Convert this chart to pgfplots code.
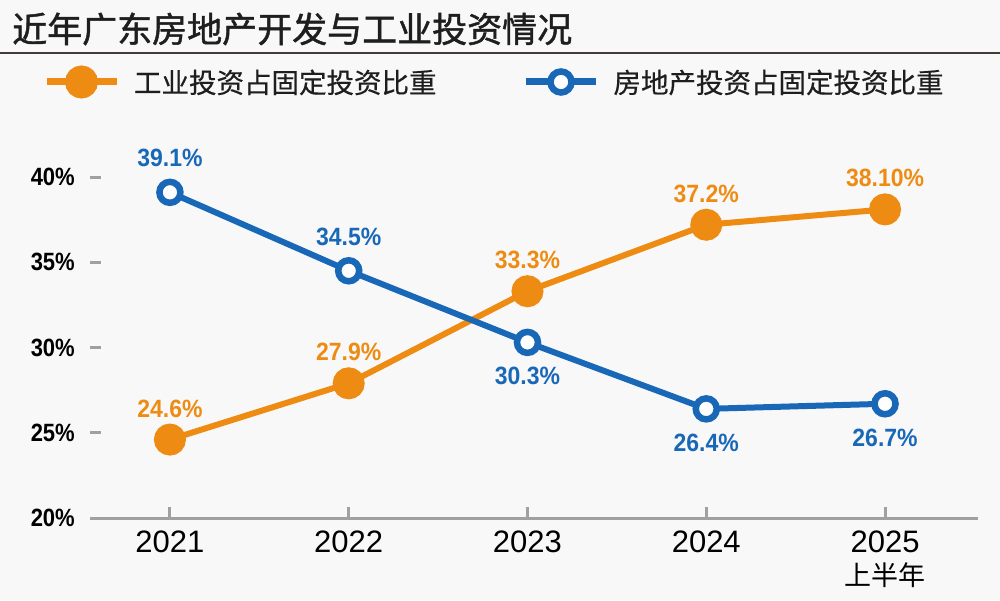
\documentclass[border=0pt]{standalone}
\usepackage{pgfplots}
\usepackage{pgfplotstable}
\pgfplotsset{compat=1.18}
\usepackage{fontspec}
\setmainfont{Liberation Sans}
\newfontfamily\numfont[FakeStretch=0.88]{Liberation Sans}
\newfontfamily\lblfont[FakeStretch=0.92]{Liberation Sans}
\newfontfamily\cjk{Noto Sans CJK SC}
\newfontfamily\cjkleg[FakeBold=0.5]{Noto Sans CJK SC}
\newfontfamily\cjktitle[FakeBold=1.3]{Noto Sans CJK SC}
\definecolor{ind}{RGB}{238,139,18}
\definecolor{re}{RGB}{24,104,183}
\definecolor{bg}{RGB}{248,248,248}
\definecolor{axg}{RGB}{160,160,160}
\definecolor{rulec}{RGB}{70,58,58}
\definecolor{txt}{RGB}{30,30,30}

% pos: 1 = label above the point, -1 = below
\pgfplotstableread{
x v lab pos
0 24.6 24.6 1
1 27.9 27.9 1
2 33.3 33.3 1
3 37.2 37.2 1
4 38.1 38.10 1
}\industry
\pgfplotstableread{
x v lab pos
0 39.1 39.1 1
1 34.5 34.5 1
2 30.3 30.3 -1
3 26.4 26.4 -1
4 26.7 26.7 -1
}\estate

\begin{document}
\begin{tikzpicture}
\fill[bg] (0pt,0pt) rectangle (1000pt,600pt);
\useasboundingbox (0pt,0pt) rectangle (1000pt,600pt);
\node[anchor=west, inner sep=0pt, text=txt, font=\cjktitle\fontsize{35}{40}\selectfont] at (12pt,571pt) {近年广东房地产开发与工业投资情况};
\draw[rulec, line width=2pt] (0pt,547pt) -- (1000pt,547pt);

\begin{axis}[
  at={(90pt,82pt)}, anchor=south west,
  scale only axis, width=888pt, height=341pt,
  xmin=-0.447, xmax=4.52, ymin=20, ymax=40,
  clip=false,
  axis x line*=bottom, axis y line*=left,
  x axis line style={axg, line width=3pt, -},
  y axis line style={draw=none},
  tick align=inside, major tick length=11pt,
  tick style={axg, line width=3pt},
  xtick={0,1,2,3,4},
  xticklabels={2021,2022,2023,2024,{2025\\{\cjk\fontsize{27}{30}\selectfont 上半年}}},
  xticklabel style={font=\fontsize{31}{33}\selectfont, text=black, inner sep=0pt, anchor=north, yshift=-13pt, align=center},
  ytick={20,25,30,35,40},
  yticklabels={20\%,25\%,30\%,35\%,40\%},
  yticklabel style={font=\numfont\bfseries\fontsize{25}{30}\selectfont, text=black, inner sep=0pt, xshift=-15pt},
  legend columns=2,
  legend cell align=left,
  legend style={at={(axis description cs:-0.0529,1.2786)}, anchor=west, draw=none, fill=none,
    inner sep=0pt, outer sep=0pt, text=txt, font=\cjkleg\fontsize{27.5}{32}\selectfont,
    nodes={inner sep=0pt},
    /tikz/every odd column/.append style={column sep=14pt},
    /tikz/every even column/.append style={column sep=86pt}},
  legend image code/.code={\draw[mark repeat=2, mark phase=2, line width=7pt] plot coordinates {(0pt,0pt) (35pt,0pt) (70pt,0pt)};},
  point meta=explicit symbolic,
  nodes near coords={\pgfplotspointmeta\%},
  visualization depends on={\thisrow{pos} \as \lp},
]
\addplot[ind, line width=6pt, mark=*, mark size=13pt, mark options={draw=none, fill=ind},
  every node near coord/.append style={anchor=center, yshift=\lp*31pt, text=ind, font=\lblfont\bfseries\fontsize{25}{30}\selectfont}]
  table[x=x, y=v, meta=lab] {\industry};
\addlegendentry{工业投资占固定投资比重}
\addplot[re, line width=6pt, mark=*, mark size=10.5pt, mark options={draw=re, fill=white, line width=6.5pt},
  every node near coord/.append style={anchor=center, yshift=\lp*34pt, text=re, font=\lblfont\bfseries\fontsize{25}{30}\selectfont}]
  table[x=x, y=v, meta=lab] {\estate};
\addlegendentry{房地产投资占固定投资比重}
\end{axis}
\end{tikzpicture}
\end{document}
